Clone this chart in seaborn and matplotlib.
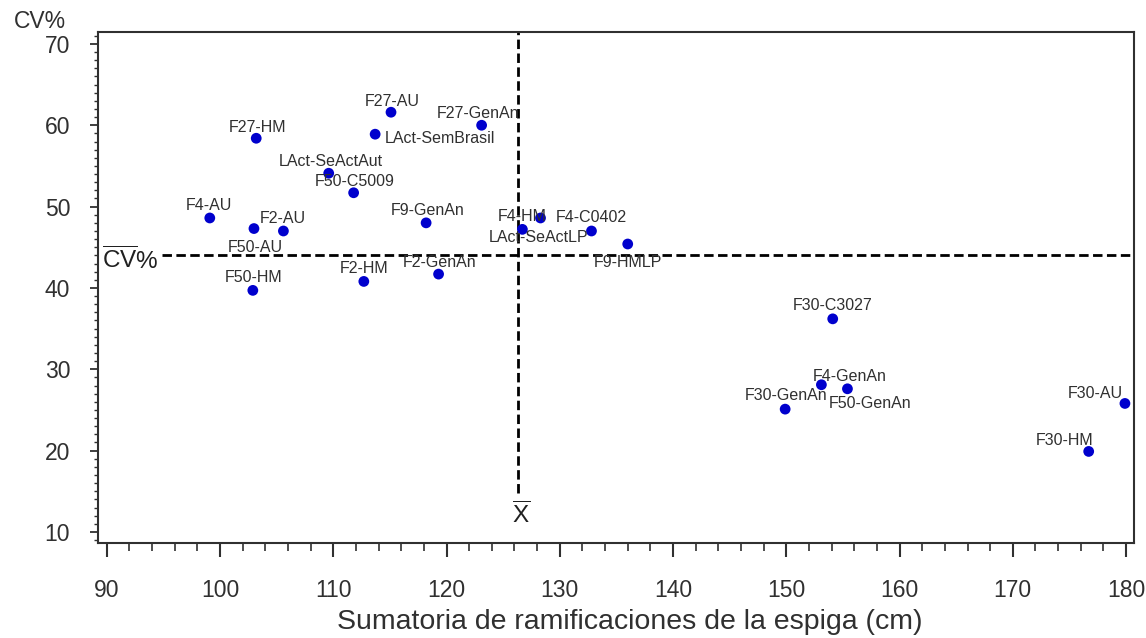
import matplotlib
matplotlib.use("Agg")
import numpy as np
import pandas as pd
import matplotlib.pyplot as plt
import seaborn as sns
from matplotlib.ticker import MultipleLocator, FixedLocator

# ---------------- data ----------------
labels = ["F27-AU", "F27-HM", "LAct-SemBrasil", "F27-GenAn", "LAct-SeActAut",
          "F50-C5009", "F4-AU", "F50-AU", "F2-AU", "F9-GenAn", "F2-GenAn",
          "F2-HM", "F50-HM", "F4-HM", "LAct-SeActLP", "F4-C0402", "F9-HMLP",
          "F30-C3027", "F4-GenAn", "F50-GenAn", "F30-GenAn", "F30-AU", "F30-HM"]
sum_ramif = [115.1, 103.2, 113.7, 123.1, 109.6,
             111.8, 99.1, 103.0, 105.6, 118.2, 119.3,
             112.7, 102.9, 126.7, 128.3, 132.8, 136.0,
             154.1, 153.1, 155.4, 149.9, 179.9, 176.7]
cv_pct = [61.6, 58.4, 58.9, 60.0, 54.1,
          51.7, 48.6, 47.3, 47.0, 48.0, 41.7,
          40.8, 39.7, 47.2, 48.6, 47.0, 45.4,
          36.2, 28.1, 27.6, 25.1, 25.8, 19.9]
x_ticks = [90, 100, 110, 120, 130, 140, 150, 160, 170, 180]
y_ticks = [10, 20, 30, 40, 50, 60, 70]
mean_x = 126.33
mean_cv = 44.0

# label offsets (pixels, dx right, dy down) - layout only
label_offsets = {
    "F27-AU": (1, -11), "F27-HM": (1, -11), "LAct-SemBrasil": (65, 4),
    "F27-GenAn": (-3.5, -11.5), "LAct-SeActAut": (2, -12), "F50-C5009": (1.4, -11.7),
    "F4-AU": (-1, -12.5), "F50-AU": (1, 19), "F2-AU": (-0.5, -12),
    "F9-GenAn": (1.5, -12), "F2-GenAn": (1.3, -11.5), "F2-HM": (0.7, -12.7),
    "F50-HM": (0.7, -12.5), "F4-HM": (0.2, -13), "LAct-SeActLP": (-1.7, 19.2),
    "F4-C0402": (0, -13.5), "F9-HMLP": (0, 18.7), "F30-C3027": (0.3, -13),
    "F4-GenAn": (28.5, -8), "F50-GenAn": (22.8, 15), "F30-GenAn": (0.8, -14),
    "F30-AU": (-30, -10.3), "F30-HM": (-24.3, -10.5),
}

df = pd.DataFrame({"label": labels, "x": sum_ramif, "cv": cv_pct})

# ---------------- style ----------------
sns.set_style("ticks")
plt.rcParams["font.family"] = ["Liberation Sans", "DejaVu Sans"]
plt.rcParams["mathtext.fontset"] = "custom"
plt.rcParams["mathtext.rm"] = "Liberation Sans"
plt.rcParams["mathtext.it"] = "Liberation Sans:italic"
plt.rcParams["mathtext.bf"] = "Liberation Sans:bold"

W, H = 1146, 638
fig = plt.figure(figsize=(W / 100, H / 100), dpi=100)
fig.patch.set_facecolor("white")
left, right, top, bottom = 98, 1134, 31.7, 542.7
ax = fig.add_axes([left / W, 1 - bottom / H, (right - left) / W, (bottom - top) / H])

sns.scatterplot(data=df, x="x", y="cv", ax=ax, color="#0000cd", s=60,
                edgecolor="none", legend=False, zorder=3)

ax.set_xlim(89.23, 180.7)
ax.set_ylim(8.68, 71.5)

# mean lines
ax.plot([94.9, 180.7], [mean_cv, mean_cv], color="black", lw=2.0,
        linestyle=(0, (3.4, 1.6)), zorder=2, clip_on=False)
ax.plot([mean_x, mean_x], [14.8, 71.5], color="black", lw=2.0,
        linestyle=(0, (3.4, 1.6)), zorder=2, clip_on=False)

ax.text(89.6, 43.4, r"$\overline{\mathrm{CV}}$%", ha="left", va="center",
        fontsize=17.5, color="#202020")
ax.text(126.57, 12.0, r"$\overline{\mathrm{X}}$", ha="center", va="center",
        fontsize=17.5, color="#202020")

for lab, xv, yv in zip(labels, sum_ramif, cv_pct):
    dx, dy = label_offsets[lab]
    ax.annotate(lab, (xv, yv), xytext=(dx, -dy), textcoords="offset pixels",
                ha="center", va="center", fontsize=11.5, color="#303030",
                zorder=4)

# ticks
ax.xaxis.set_major_locator(FixedLocator(x_ticks))
ax.yaxis.set_major_locator(FixedLocator(y_ticks))
ax.xaxis.set_minor_locator(MultipleLocator(2))
ax.yaxis.set_minor_locator(MultipleLocator(1))
ax.tick_params(axis="x", which="major", length=10, width=1.5, pad=16,
               labelsize=16.5, colors="#303030", direction="out")
ax.tick_params(axis="x", which="minor", length=6, width=1.2, direction="out",
               colors="#303030")
ax.tick_params(axis="y", which="major", length=6, width=1.3, pad=14,
               labelsize=16.5, colors="#303030", direction="out")
ax.tick_params(axis="y", which="minor", length=3, width=1.0, direction="out",
               colors="#303030")

for sp in ax.spines.values():
    sp.set_visible(True)
    sp.set_linewidth(1.5)
    sp.set_color("#303030")

ax.set_xlabel("")
ax.set_ylabel("")

fig.text(40 / W, 1 - 21 / H, "CV%", ha="center", va="center", fontsize=16.5,
         color="#303030")
fig.text(630 / W, 1 - 629 / H, "Sumatoria de ramificaciones de la espiga (cm)",
         ha="center", va="baseline", fontsize=20.5, color="#303030")

fig.savefig("out.png", dpi=100, facecolor="white")
